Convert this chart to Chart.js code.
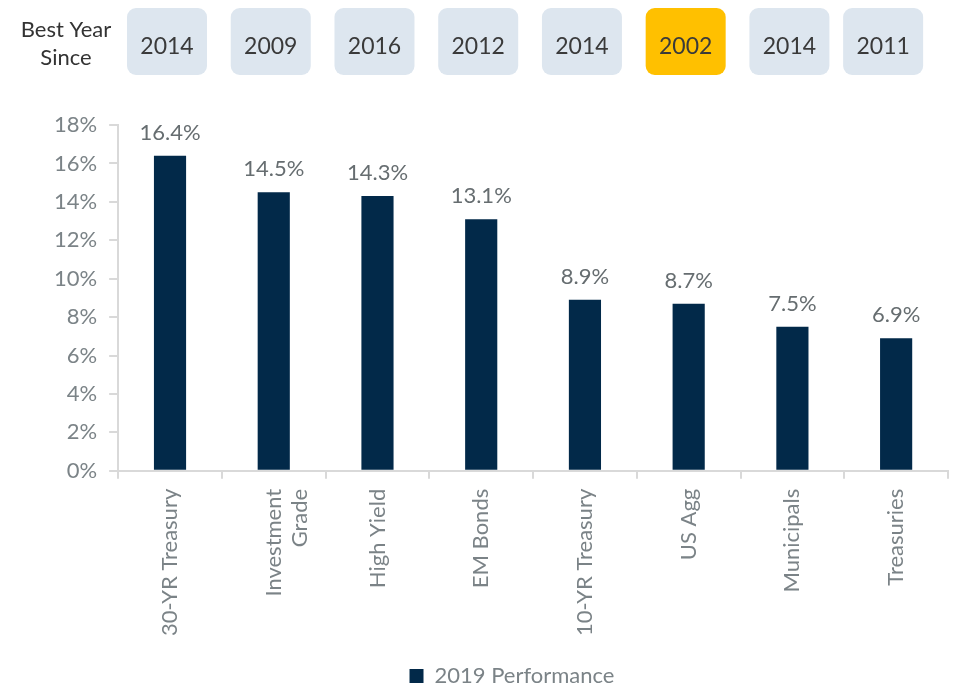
<!DOCTYPE html>
<html>
<head>
<meta charset="utf-8">
<script src="https://cdn.jsdelivr.net/npm/chart.js@4"></script>
<style>
  html, body { margin: 0; padding: 0; background: #fff; }
  #wrap { width: 958px; height: 687px; position: relative; }
</style>
</head>
<body>
<div id="wrap"><canvas id="grafico"></canvas></div>
<script>
const categorias = ["30-YR Treasury", ["Investment", "Grade"], "High Yield", "EM Bonds", "10-YR Treasury", "US Agg", "Municipals", "Treasuries"];
const desempenho = [16.4, 14.5, 14.3, 13.1, 8.9, 8.7, 7.5, 6.9];
const melhorAno = ["2014", "2009", "2016", "2012", "2014", "2002", "2014", "2011"];
const destaque = [false, false, false, false, false, true, false, false];
const nomeSerie = "2019 Performance";

const fonte = '"Lato", "Open Sans", sans-serif';

// rotulos em cima das barras
const rotulos = {
  id: "rotulos",
  afterDatasetsDraw(chart) {
    const ctx = chart.ctx;
    const meta = chart.getDatasetMeta(0);
    ctx.save();
    ctx.font = "22px " + fonte;
    ctx.fillStyle = "#666d70";
    ctx.textAlign = "center";
    ctx.textBaseline = "bottom";
    meta.data.forEach((bar, i) => {
      ctx.fillText(desempenho[i].toFixed(1) + "%", bar.x, bar.y - 12);
    });
    ctx.restore();
  },
};

// caixas "Best Year Since"
const caixas = {
  id: "caixas",
  afterLayout(chart) {
    // legenda um pouco mais para baixo e para a direita
    chart.legend.top += 10;
    chart.legend.bottom += 10;
    chart.legend.left += 17;
    chart.legend.right += 17;
  },
  afterDraw(chart) {
    const ctx = chart.ctx;
    const x = chart.scales.x;
    ctx.save();
    ctx.font = "22px " + fonte;
    ctx.textAlign = "center";
    ctx.textBaseline = "middle";
    ctx.fillStyle = "#333";
    ctx.fillText("Best Year", 66, 30);
    ctx.fillText("Since", 66, 58);
    ctx.font = "23px " + fonte;
    for (let i = 0; i < melhorAno.length; i++) {
      const cx = x.getPixelForValue(i) - 3 - (i === 7 ? 10 : 0);
      ctx.beginPath();
      ctx.roundRect(cx - 40, 8, 80, 67, 9);
      ctx.fillStyle = destaque[i] ? "#ffc000" : "#dde6ef";
      ctx.fill();
      ctx.fillStyle = "#3a3a3a";
      ctx.fillText(melhorAno[i], cx, 47);
    }
    ctx.restore();
  },
};

new Chart(document.getElementById("grafico"), {
  type: "bar",
  data: {
    labels: categorias,
    datasets: [
      {
        label: nomeSerie,
        data: desempenho,
        backgroundColor: "#022949",
        barPercentage: 0.31,
        categoryPercentage: 1,
      },
    ],
  },
  options: {
    responsive: true,
    maintainAspectRatio: false,
    animation: false,
    layout: { padding: { top: 125, left: 42, right: 10, bottom: 0 } },
    scales: {
      x: {
        grid: { drawOnChartArea: false, color: "#d9d9d9", tickLength: 8, lineWidth: 2 },
        border: { color: "#d9d9d9", width: 2 },
        ticks: {
          color: "#7b8387",
          font: { size: 22, family: fonte },
          maxRotation: 90,
          minRotation: 90,
          padding: 10,
        },
        afterFit(scale) {
          scale.height += 9;
        },
      },
      y: {
        min: 0,
        max: 18,
        grid: { drawOnChartArea: false, color: "#d9d9d9", tickLength: 9, lineWidth: 2 },
        border: { color: "#d9d9d9", width: 2 },
        ticks: {
          stepSize: 2,
          color: "#7b8387",
          font: { size: 22, family: fonte },
          padding: 12,
          callback: (v) => v + "%",
        },
      },
    },
    plugins: {
      tooltip: { enabled: false },
      legend: {
        position: "bottom",
        labels: {
          color: "#7b8387",
          font: { size: 22, family: fonte },
          boxWidth: 14,
          boxHeight: 14,
          padding: 0,
        },
      },
    },
  },
  plugins: [rotulos, caixas],
});
</script>
</body>
</html>
